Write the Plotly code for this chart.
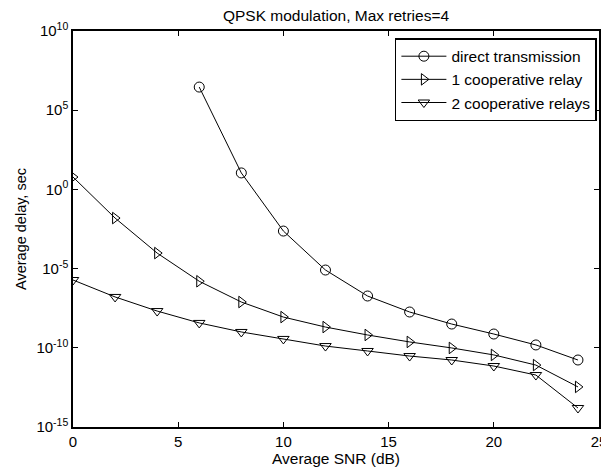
import plotly.graph_objects as go

snr = [0, 2, 4, 6, 8, 10, 12, 14, 16, 18, 20, 22, 24]
snr_direct = [6, 8, 10, 12, 14, 16, 18, 20, 22, 24]
# log10 of average delay (sec)
log_direct = [6.46, 1.04, -2.63, -5.09, -6.73, -7.74, -8.5, -9.13, -9.82, -10.77]
log_relay1 = [0.78, -1.81, -4.02, -5.8, -7.11, -8.06, -8.69, -9.19, -9.63, -10.01, -10.45, -11.09, -12.47]
log_relay2 = [-5.72, -6.79, -7.68, -8.43, -9.0, -9.44, -9.89, -10.2, -10.52, -10.77, -11.15, -11.72, -13.8]

names = ["direct transmission", "1 cooperative relay", "2 cooperative relays"]
ytick_exp = [-15, -10, -5, 0, 5, 10]
xtick_vals = [0, 5, 10, 15, 20, 25]

direct = [10 ** v for v in log_direct]
relay1 = [10 ** v for v in log_relay1]
relay2 = [10 ** v for v in log_relay2]

fig = go.Figure()
series = [
    (snr_direct, direct, "circle-open", names[0]),
    (snr, relay1, "triangle-right-open", names[1]),
    (snr, relay2, "triangle-down-open", names[2]),
]
for xs, ys, sym, nm in series:
    fig.add_trace(go.Scatter(
        x=xs, y=ys, mode="lines+markers", name=nm,
        line=dict(color="black", width=1),
        marker=dict(symbol=sym, size=10, color="black", line=dict(width=1, color="black")),
    ))

FAM = "Liberation Sans, Arial, sans-serif"
fig.update_layout(
    width=601, height=470,
    margin=dict(l=73, r=2, t=31, b=43),
    paper_bgcolor="white", plot_bgcolor="white",
    font=dict(family=FAM, size=15, color="black"),
    title=dict(text="QPSK modulation, Max retries=4", x=(73 + 599) / 2 / 601, xanchor="center",
               y=1 - 15.5 / 470, yanchor="middle", font=dict(family=FAM, size=15.5)),
    legend=dict(x=0.996, y=0.982, xanchor="right", yanchor="top",
                bgcolor="white", bordercolor="black", borderwidth=1.5,
                font=dict(family=FAM, size=15.5), tracegroupgap=0, itemwidth=45),
    showlegend=True,
)
fig.update_xaxes(
    range=[0, 25], tickvals=xtick_vals, ticks="inside", ticklen=5, tickcolor="black",
    showline=True, linecolor="black", linewidth=1.5, mirror="ticks", showgrid=False, zeroline=False,
    ticklabeloverflow="allow", automargin=False,
    title=dict(text="Average SNR (dB)", standoff=2, font=dict(family=FAM, size=15.5)),
    tickfont=dict(family=FAM, size=15),
)
fig.update_yaxes(
    type="log", range=[-15, 10],
    tickvals=[10 ** e for e in ytick_exp],
    ticktext=["10<sup>%d</sup>" % e for e in ytick_exp],
    ticks="inside", ticklen=5, tickcolor="black",
    showline=True, linecolor="black", linewidth=1.5, mirror="ticks", showgrid=False, zeroline=False,
    ticklabeloverflow="allow", automargin=False,
    title=dict(text="Average delay, sec", standoff=6, font=dict(family=FAM, size=14.5)),
    tickfont=dict(family=FAM, size=15),
)

fig.write_html("out.html")
